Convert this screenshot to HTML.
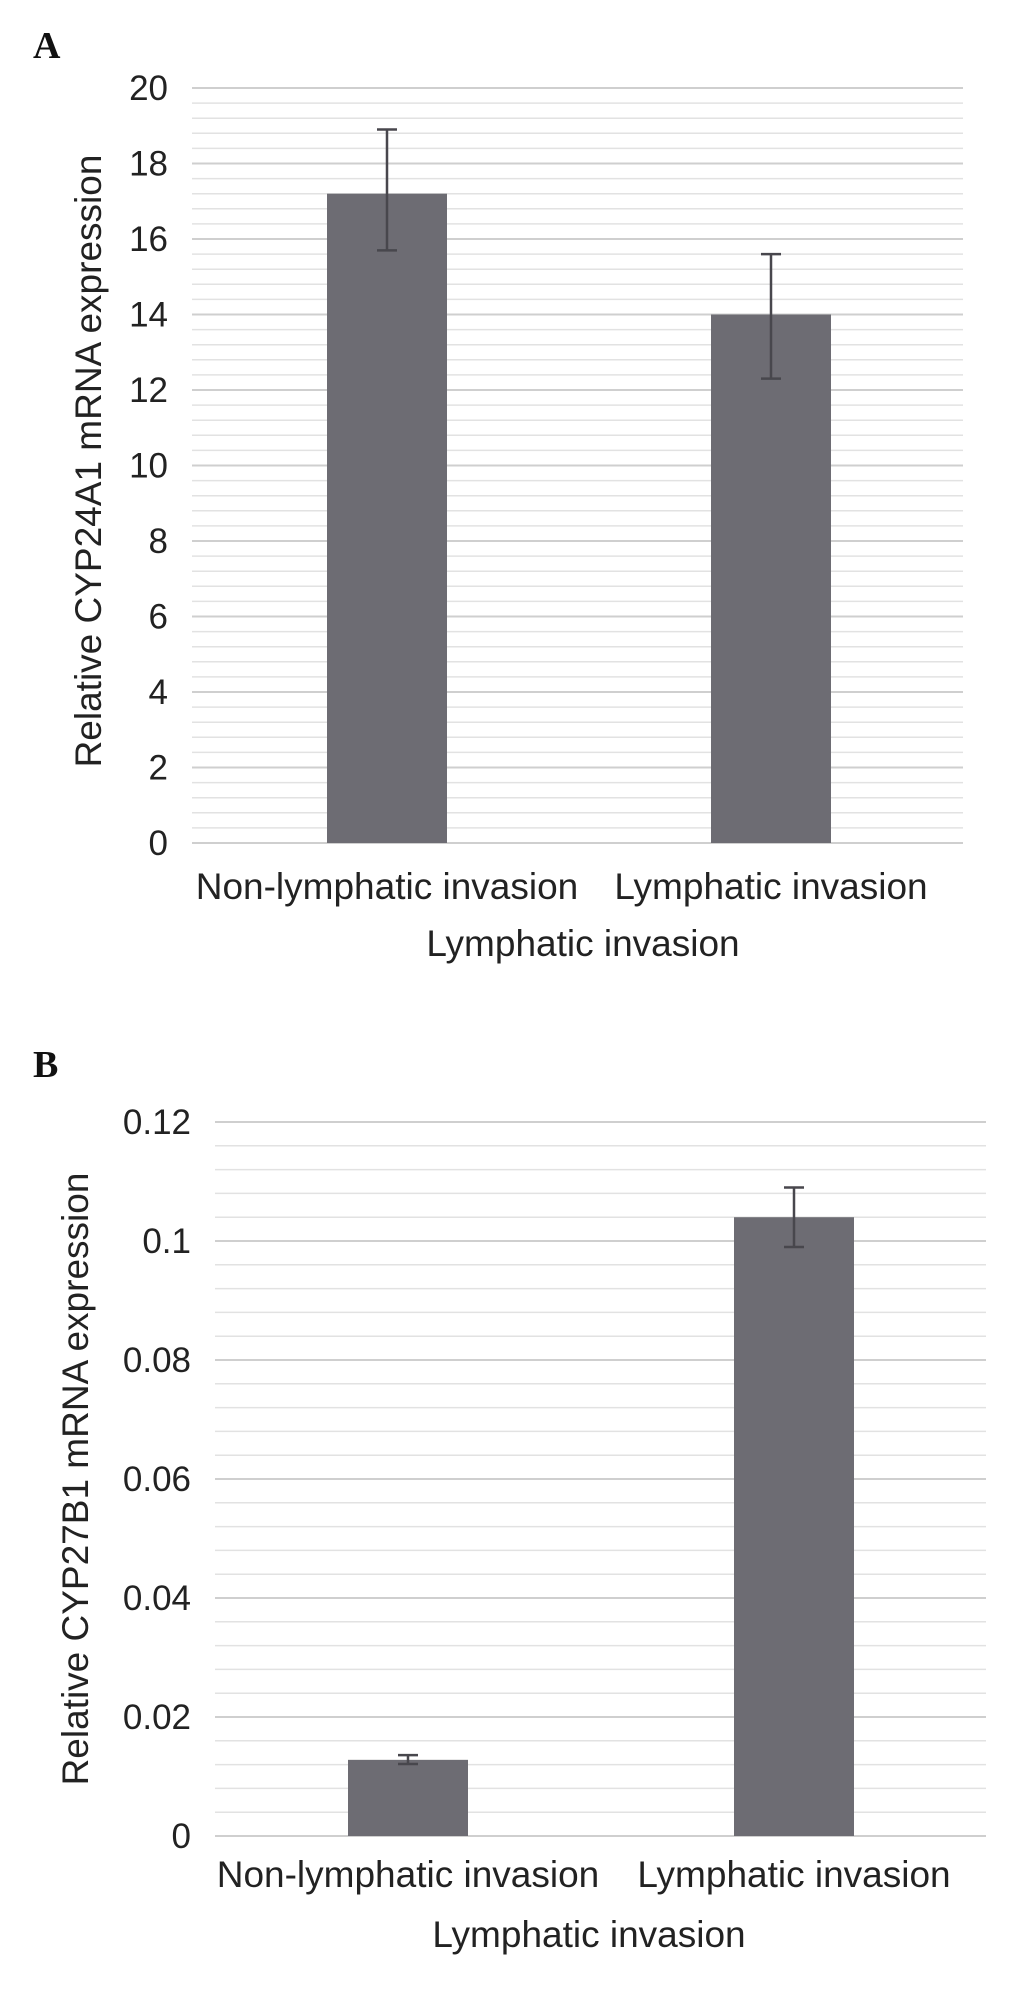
<!DOCTYPE html>
<html><head><meta charset="utf-8"><style>
body{margin:0;background:#fff;width:1033px;height:2009px;overflow:hidden}
svg{display:block;font-family:"Liberation Sans",sans-serif}
</style></head><body>
<svg id="s" width="1033" height="2009"></svg>
<script>
const categoriesA=["Non-lymphatic invasion","Lymphatic invasion"];
const valuesA=[17.2,14.0];
const errLowA=[15.7,12.3];
const errHighA=[18.9,15.6];
const ticksA=["0","2","4","6","8","10","12","14","16","18","20"];
const categoriesB=["Non-lymphatic invasion","Lymphatic invasion"];
const valuesB=[0.0128,0.104];
const errLowB=[0.0121,0.099];
const errHighB=[0.0136,0.109];
const ticksB=["0","0.02","0.04","0.06","0.08","0.1","0.12"];
const NS="http://www.w3.org/2000/svg";
const svg=document.getElementById('s');
function mk(tag,attrs,parent,text){const e=document.createElementNS(NS,tag);for(const k in attrs)e.setAttribute(k,attrs[k]);if(text!==undefined)e.textContent=text;(parent||svg).appendChild(e);return e;}
function chart(o){
  const g=mk('g',{});
  
  
  const max=parseFloat(o.ticks[o.ticks.length-1]);
  const y=v=>o.y0+(o.yTop-o.y0)*v/max;
  const nMaj=o.ticks.length-1, sub=5;
  for(let i=0;i<=nMaj*sub;i++){
    const v=max*i/(nMaj*sub);const major=i%sub===0;
    const l=mk('line',{x1:o.x0,x2:o.x1,y1:y(v),y2:y(v),stroke:major?'#cfcfcf':'#e2e2e2','stroke-width':major?2:1.5},g);
    
    
  }
  o.ticks.forEach(t=>{
    const e=mk('text',{x:o.tickX,y:y(parseFloat(t))+12,'text-anchor':'end','font-size':35,fill:'#222'},g,t);
    
    
  });
  o.cats.forEach((c,i)=>{
    const cx=o.centers[i];
    const r=mk('rect',{x:cx-o.bw/2,y:y(o.vals[i]),width:o.bw,height:y(0)-y(o.vals[i]),fill:'#6d6c73'},g);
    
    
    const eg=mk('g',{stroke:'#48474d','stroke-width':2.5},g);
    
    
    mk('line',{x1:cx,x2:cx,y1:y(o.lo[i]),y2:y(o.hi[i])},eg);
    mk('line',{x1:cx-10,x2:cx+10,y1:y(o.lo[i]),y2:y(o.lo[i])},eg);
    mk('line',{x1:cx-10,x2:cx+10,y1:y(o.hi[i]),y2:y(o.hi[i])},eg);
    const t=mk('text',{x:cx,y:o.catY,'text-anchor':'middle','font-size':37,fill:'#222'},g,c);
    
    
  });
  const xt=mk('text',{x:o.xtX,y:o.xtY,'text-anchor':'middle','font-size':37,fill:'#222'},g,'Lymphatic invasion');
  
  
  const yt=mk('text',{x:0,y:0,'text-anchor':'middle','font-size':37,fill:'#222',transform:`translate(${o.ytX},${o.ytY}) rotate(-90)`},g,o.ytitle);
  
  
  const p=mk('text',{x:33,y:o.panelY,'font-size':38,'font-weight':'bold','font-family':'"Liberation Serif",serif',fill:'#111'},g,o.panel);
  
  
}
chart({name:'chart-a',cats:categoriesA,vals:valuesA,lo:errLowA,hi:errHighA,ticks:ticksA,centers:[387,771],x0:192,x1:963,y0:843,yTop:88,bw:120,tickX:168,catY:899,xtX:583,xtY:956,ytX:101,ytY:461,ytitle:'Relative CYP24A1 mRNA expression',panel:'A',panelY:58});
chart({name:'chart-b',cats:categoriesB,vals:valuesB,lo:errLowB,hi:errHighB,ticks:ticksB,centers:[408,794],x0:215,x1:986,y0:1836,yTop:1122,bw:120,tickX:191,catY:1887,xtX:589,xtY:1947,ytX:88,ytY:1479,ytitle:'Relative CYP27B1 mRNA expression',panel:'B',panelY:1077});
</script>
</body></html>
